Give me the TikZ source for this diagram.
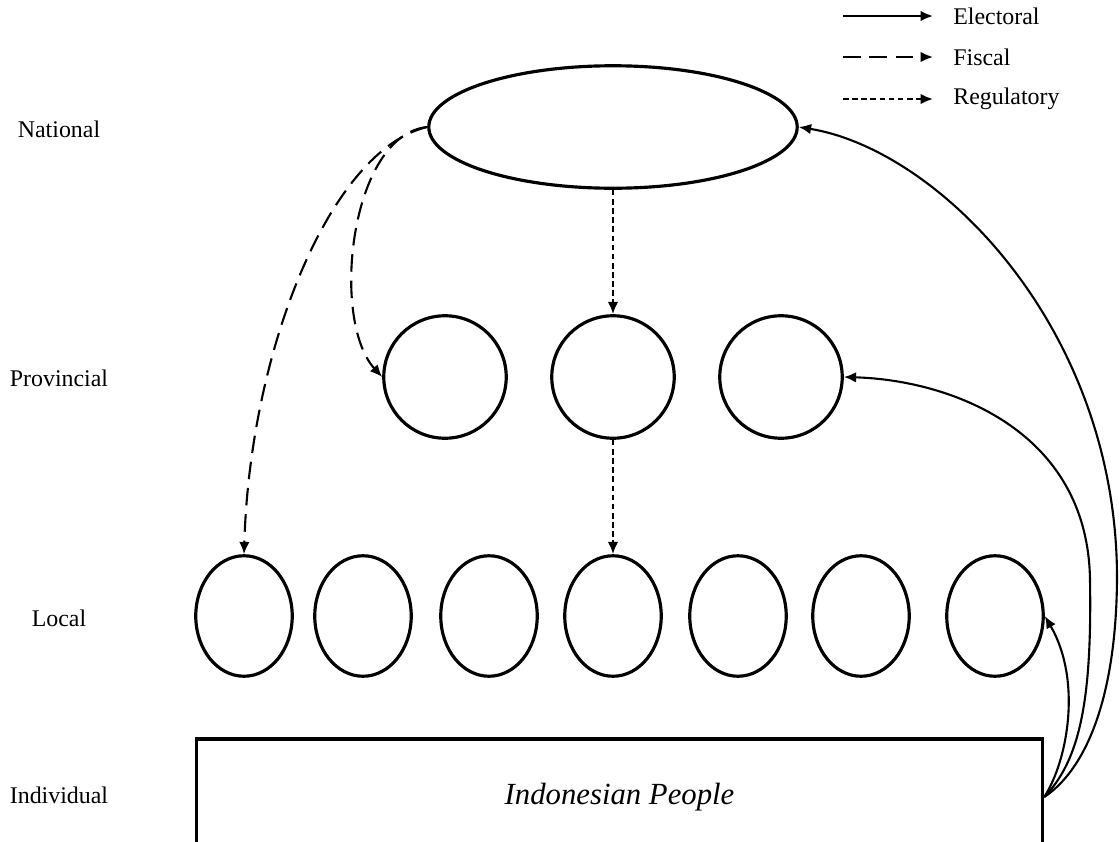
\documentclass[tikz,border=0pt]{standalone}
\usepackage{fontspec}
\setmainfont{Liberation Serif}
\usetikzlibrary{arrows.meta}
\usetikzlibrary{shapes.geometric}
\usetikzlibrary{positioning}
\tikzset {
  % level of government
  gov/.style = {
    draw = black,
    line width = 1.8pt,
    inner sep = 0
  },
  national/.style = {
    gov,
    ellipse,
    minimum width = 7.37cm,
    minimum height = 2.45cm
  },
  province/.style = {
    gov,
    circle,
    minimum size = 2.45cm
  },
  local/.style = {
    gov,
    ellipse,
    minimum width = 1.93cm,
    minimum height = 2.41cm
  },
  people/.style = {
    gov,
    rectangle,
    minimum width = 16.93cm,
    minimum height = 2.32cm,
    font = \fontsize{17.5}{20}\selectfont\itshape
  },
  % row names on the left
  level/.style = {
    font = \fontsize{13.6}{16}\selectfont
  },
  legend/.style = {
    level,
    anchor = west,
    inner sep = 0
  }
}
\tikzset {
  link/.style = {
    line width = 1.2pt,
    -{Latex[length=7pt,width=6pt]}
  },
  electoral/.style = {
    link
  },
  % long dashes
  fiscal/.style = {
    link,
    dash pattern = on 10pt off 5pt
  },
  % short dashes
  regulatory/.style = {
    link,
    dash pattern = on 3.2pt off 2pt
  }
}

\begin{document}
\begin{tikzpicture}[x=0.02cm, y=-0.02cm]
    \path[use as bounding box, clip] (0,0) rectangle (1120,842);

    \node[level] (lvl-nat) at (59,129) {National};
    \node[level] (lvl-prov) at (59,378) {Provincial};
    \node[level] (lvl-loc) at (59,618) {Local};
    \node[level] (lvl-ind) at (59,795) {Individual};

    \node[national] (nat) at (613,127) {};
    \node[province] (prov-1) at (445,377) {};
    \node[province] (prov-2) at (613,377) {};
    \node[province] (prov-3) at (781,377) {};

    \node[local] (loc-1) at (244,616) {};
    \node[local] (loc-2) at (363,616) {};
    \node[local] (loc-3) at (489,616) {};
    \node[local] (loc-4) at (613,616) {};
    \node[local] (loc-5) at (738,616) {};
    \node[local] (loc-6) at (861,616) {};
    \node[local] (loc-7) at (995,616) {};

    \node[people] (people) at (619.5,797) {Indonesian People};

    % legend
    \node[legend] (elec) at (953,16) {Electoral};
    \node[legend] (fisc) at (953,57) {Fiscal};
    \node[legend] (regu) at (953,99) {Regulatory};
    \coordinate[left=0.4cm of elec.west] (elec-head);
    \coordinate[left=1.8cm of elec-head] (elec-tail);
    \coordinate[left=0.4cm of fisc.west] (fisc-head);
    \coordinate[left=1.8cm of fisc-head] (fisc-tail);
    \coordinate[left=0.4cm of regu.west] (regu-head);
    \coordinate[left=1.8cm of regu-head] (regu-tail);

    \draw[electoral] (elec-tail) -- (elec-head);
    \draw[fiscal] (fisc-tail) -- (fisc-head);
    \draw[regulatory] (regu-tail) -- (regu-head);

    \draw[regulatory] (nat) -- (prov-2);
    \draw[regulatory] (prov-2) -- (loc-4);

    \draw[fiscal] (nat.west)
      .. controls (330,150) and (250,350) .. (loc-1.north);
    \draw[fiscal] (nat.west)
      .. controls (350,135) and (330,320) .. (prov-1.west);

    \draw[electoral] (people.east)
      .. controls (1068,760) and (1082,680) .. (loc-7.east);
    \draw[electoral] (people.east)
      .. controls (1080,760) and (1092,700) .. (1090,580)
      .. controls (1088,430) and (950,380) .. (prov-3.east);
    \draw[electoral] (people.east)
      .. controls (1085,770) and (1116,700) .. (1117,580)
      .. controls (1118,330) and (940,150) .. (nat.east);

\end{tikzpicture}
\end{document}
